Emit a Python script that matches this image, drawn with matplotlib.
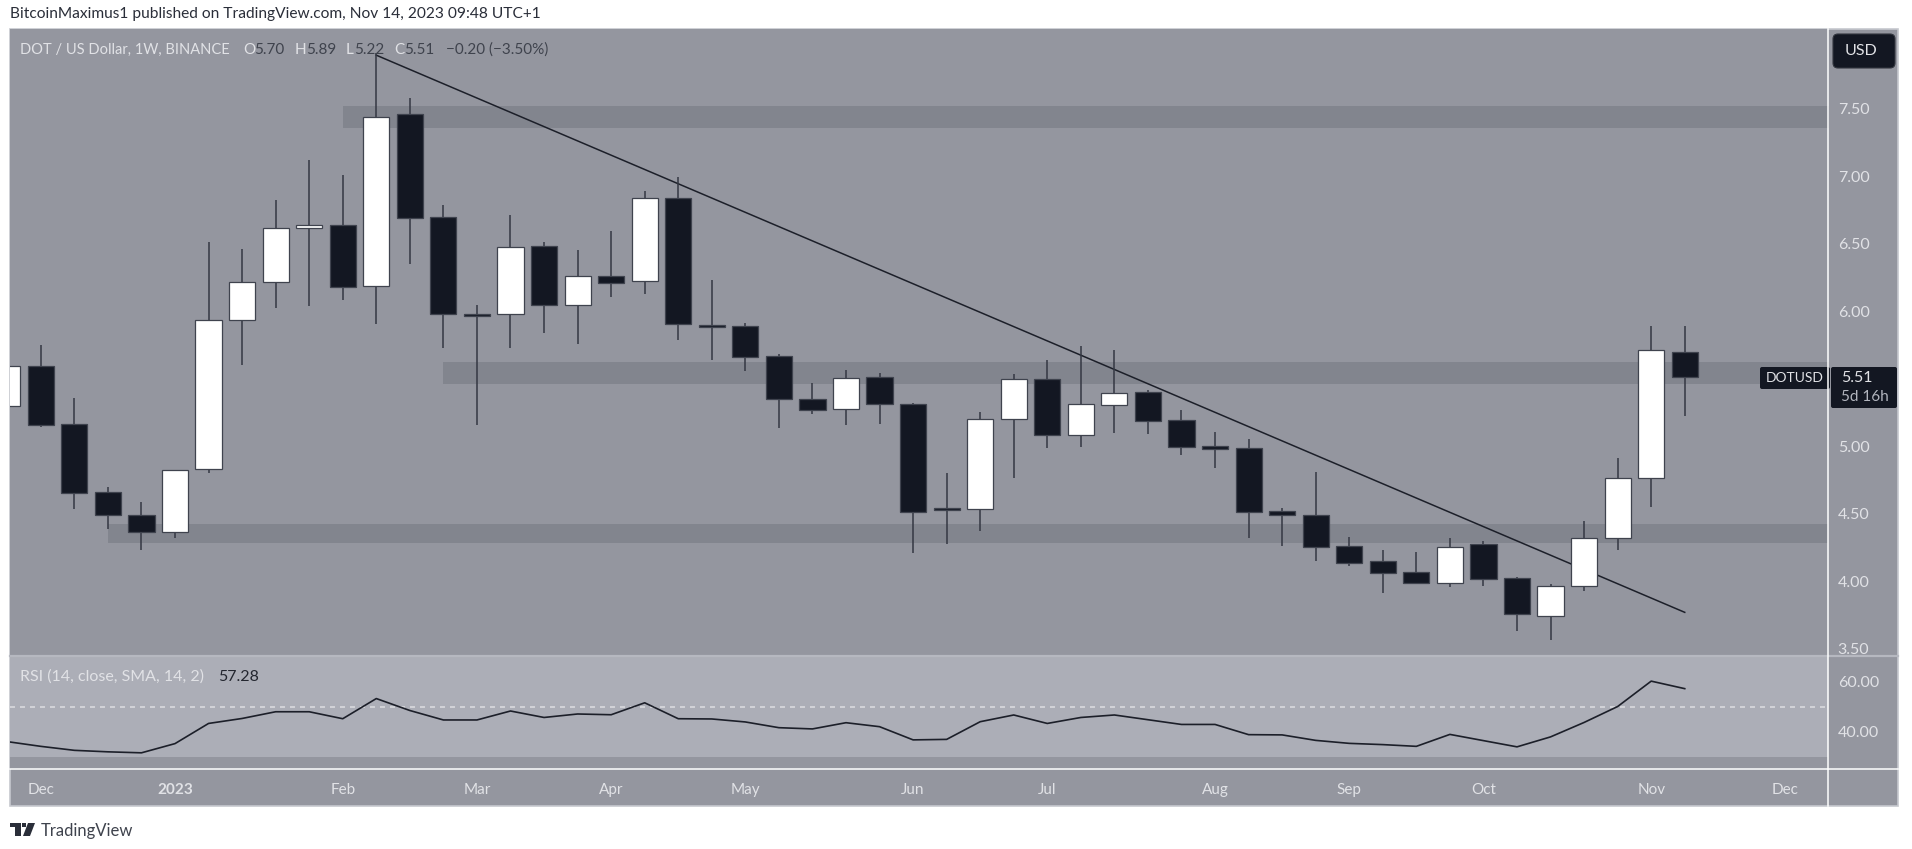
import matplotlib
matplotlib.use('Agg')
import matplotlib.pyplot as plt
from matplotlib.patches import FancyBboxPatch, Polygon, Rectangle

plt.rcParams['font.family'] = ['Lato', 'DejaVu Sans']

# Weekly candles, index -1 is the one cut off at the left edge
weeks = list(range(-1, 50))
opens = [5.30, 5.59, 5.16, 4.657, 4.49, 4.365, 4.827, 5.93, 6.213, 6.612, 6.64, 6.183, 7.457, 6.694, 5.976,
         5.976, 6.484, 6.047, 6.261, 6.22, 6.837, 5.90, 5.887, 5.664, 5.35, 5.276, 5.509, 5.313, 4.543, 4.531,
         5.198, 5.499, 5.081, 5.306, 5.398, 5.193, 4.998, 4.983, 4.516, 4.491, 4.257, 4.148, 4.069, 3.985, 4.274,
         4.022, 3.743, 3.963, 4.316, 4.765, 5.70]
highs = [5.59, 5.746, 5.358, 4.70, 4.583, 4.825, 6.513, 6.459, 6.822, 7.119, 7.01, 7.91, 7.578, 6.783, 6.044,
         6.711, 6.509, 6.452, 6.593, 6.886, 6.995, 6.23, 5.909, 5.68, 5.469, 5.563, 5.538, 5.32, 4.80, 5.25,
         5.531, 5.635, 5.743, 5.711, 5.415, 5.264, 5.106, 5.052, 4.539, 4.805, 4.328, 4.227, 4.217, 4.321, 4.296,
         4.03, 3.98, 4.447, 4.909, 5.887, 5.89]
lows = [5.30, 5.14, 4.533, 4.385, 4.227, 4.32, 4.80, 5.598, 6.022, 6.037, 6.08, 5.904, 6.35, 5.728, 5.156,
        5.728, 5.839, 5.753, 6.106, 6.124, 5.785, 5.635, 5.558, 5.133, 5.235, 5.156, 5.163, 4.21, 4.274, 4.368,
        4.761, 4.983, 4.99, 5.10, 5.091, 4.933, 4.839, 4.321, 4.259, 4.15, 4.109, 3.913, 3.983, 3.958, 3.961,
        3.632, 3.565, 3.928, 4.227, 4.55, 5.22]
closes = [5.59, 5.156, 4.654, 4.489, 4.363, 4.822, 5.931, 6.213, 6.615, 6.64, 6.18, 7.44, 6.691, 5.976, 5.96,
          6.474, 6.047, 6.261, 6.21, 6.835, 5.904, 5.88, 5.659, 5.346, 5.267, 5.506, 5.313, 4.511, 4.526, 5.198,
          5.499, 5.079, 5.309, 5.395, 5.187, 4.993, 4.976, 4.511, 4.489, 4.252, 4.133, 4.061, 3.983, 4.254, 4.017,
          3.756, 3.965, 4.319, 4.765, 5.709, 5.51]
rsi = [36.0, 34.1, 32.5, 31.9, 31.5, 35.2, 43.3, 45.3, 48.0, 48.0, 45.2, 53.3, 48.5, 44.7, 44.7, 48.3, 45.7,
       47.1, 46.8, 51.6, 45.2, 45.1, 43.9, 41.6, 41.1, 43.6, 42.0, 36.7, 36.9, 44.0, 46.7, 43.3, 45.7, 46.7,
       44.8, 42.9, 42.9, 38.8, 38.7, 36.5, 35.3, 34.8, 34.1, 38.9, 36.4, 33.9, 37.9, 43.7, 50.1, 60.3, 57.28]

# Horizontal zones: first week, bottom price, top price
zone_starts = [9, 12, 2]
zone_lows = [7.358, 5.457, 4.284]
zone_highs = [7.52, 5.62, 4.42]

trend_weeks = [10, 49]
trend_prices = [7.895, 3.768]

month_ticks = [0, 4, 9, 13, 17, 21, 26, 30, 35, 39, 43, 48, 52]
month_labels = ['Dec', '2023', 'Feb', 'Mar', 'Apr', 'May', 'Jun', 'Jul', 'Aug', 'Sep', 'Oct', 'Nov', 'Dec']
price_ticks = [3.5, 4.0, 4.5, 5.0, 5.5, 6.0, 6.5, 7.0, 7.5]
rsi_ticks = [40, 60]

W, H = 1912, 849
BG = '#94969f'
BAND = '#acaeb7'
ZONE = '#82858e'
DARK = '#131722'
LIGHT = '#e1e2e6'
DIM = '#3f434d'


def box(left, top, right, bottom):
    return [left / W, 1 - bottom / H, (right - left) / W, (bottom - top) / H]


fig = plt.figure(figsize=(W / 100, H / 100), dpi=100, facecolor='white')

# background and chrome live on a pixel axes
ui = fig.add_axes([0, 0, 1, 1], zorder=0)
ui.set_xlim(0, W)
ui.set_ylim(H, 0)
ui.axis('off')
ui.add_patch(Rectangle((10, 29), 1888, 777, fc=BG, ec='#c6c8ce', lw=1.2))

ax = fig.add_axes(box(10, 29, 1828, 655), zorder=1)
rsi_ax = fig.add_axes(box(10, 655, 1828, 769), zorder=1, sharex=ax)

# price pane
ax.set_facecolor(BG)
for start, low, high in zip(zone_starts, zone_lows, zone_highs):
    ax.fill_between([start, 60], low, high, color=ZONE, lw=0, zorder=1)
ax.plot(trend_weeks, trend_prices, color='#1c1f29', lw=1.1, zorder=2)

ax.vlines(weeks, lows, highs, colors='#343843', lw=1.1, zorder=3)
for w, o, c in zip(weeks, opens, closes):
    up = c > o
    ax.bar(w, abs(c - o), bottom=min(o, c), width=0.78, color='white' if up else DARK,
           edgecolor='#3f434e', linewidth=0.9, zorder=4)

ax.set_xlim(-0.918, 53.27)
ax.set_ylim(3.452, 8.089)
ax.yaxis.tick_right()
ax.set_yticks(price_ticks)
ax.set_yticklabels(['%.2f' % p for p in price_ticks], color=LIGHT, fontsize=11.5)
ax.tick_params(axis='y', length=0, pad=7)
ax.tick_params(axis='x', length=0, labelbottom=False)
for s in ax.spines.values():
    s.set_visible(False)

# RSI pane
rsi_ax.set_facecolor(BG)
rsi_ax.axhspan(30, 70, color=BAND, lw=0, zorder=1)
rsi_ax.axhline(50, color='#d9dade', lw=1.2, ls=(0, (3, 3)), zorder=2)
rsi_ax.plot(weeks, rsi, color='#1c1f29', lw=1.2, zorder=3)
rsi_ax.set_ylim(25, 70.8)
rsi_ax.yaxis.tick_right()
rsi_ax.set_yticks(rsi_ticks)
rsi_ax.set_yticklabels(['%.2f' % r for r in rsi_ticks], color=LIGHT, fontsize=11.5)
rsi_ax.tick_params(axis='y', length=0, pad=7)
rsi_ax.set_xticks(month_ticks)
rsi_ax.set_xticklabels(month_labels, color=LIGHT, fontsize=11)
rsi_ax.tick_params(axis='x', length=0, pad=10)
rsi_ax.get_xticklabels()[1].set_fontweight('bold')
for s in rsi_ax.spines.values():
    s.set_visible(False)

# overlay for separators, labels and legends
top = fig.add_axes([0, 0, 1, 1], zorder=2)
top.set_xlim(0, W)
top.set_ylim(H, 0)
top.axis('off')
top.patch.set_alpha(0)
top.plot([10, 1898], [655.5, 655.5], color='#b6b8c0', lw=1.6)
top.plot([10, 1898], [769, 769], color='white', lw=1.1)
top.plot([1828, 1828], [29, 806], color='white', lw=1.1)

top.text(10, 14, 'BitcoinMaximus1 published on TradingView.com, Nov 14, 2023 09:48 UTC+1',
         color='#2a2e39', fontsize=11.2, va='center')


def legend(x, y, s, color=LIGHT, size=11.5):
    top.text(x, y, s, color=color, fontsize=size, va='center')


legend(20, 50, 'DOT / US Dollar, 1W, BINANCE', size=10.5)
for x, s, c in [(243, 'O', LIGHT), (254, '5.70', DIM), (295, 'H', LIGHT), (306, '5.89', DIM),
                (346, 'L', LIGHT), (354, '5.22', DIM), (394, 'C', LIGHT), (404, '5.51', DIM)]:
    legend(x, 50, s, c, 11)
legend(446, 50, '\u22120.20 (\u22123.50%)', DIM, 11)
legend(20, 677, 'RSI (14, close, SMA, 14, 2)')
legend(218, 677, '57.28', '#23262f')

# USD button and last price tags
top.add_patch(FancyBboxPatch((1836, 37), 56, 28, boxstyle='round,pad=3,rounding_size=5', fc=DARK, ec='#33363f', lw=0.8))
top.text(1845, 51, 'USD', color=LIGHT, fontsize=11.5, va='center')
top.add_patch(FancyBboxPatch((1762, 369), 66, 18, boxstyle='round,pad=2,rounding_size=2', fc=DARK, ec='none'))
top.text(1795, 378, 'DOTUSD', color=LIGHT, fontsize=10, va='center', ha='center')
top.add_patch(FancyBboxPatch((1833, 369), 62, 37, boxstyle='round,pad=2,rounding_size=2', fc=DARK, ec='none'))
top.text(1841, 378, '5.51', color=LIGHT, fontsize=11.5, va='center')
top.text(1841, 397, '5d 16h', color='#b2b5be', fontsize=11, va='center')

# TradingView logo
top.add_patch(Polygon([(10, 823), (21, 823), (21, 836), (15, 836), (15, 827), (10, 827)], fc='#2a2e39', ec='none'))
top.add_patch(Rectangle((22.5, 823), 4, 4, fc='#2a2e39', ec='none'))
top.add_patch(Polygon([(28, 823), (35, 823), (30, 836), (23, 836)], fc='#2a2e39', ec='none'))
top.text(41, 831, 'TradingView', color='#3f434d', fontsize=12, va='center')

fig.savefig('out.png', dpi=100)
